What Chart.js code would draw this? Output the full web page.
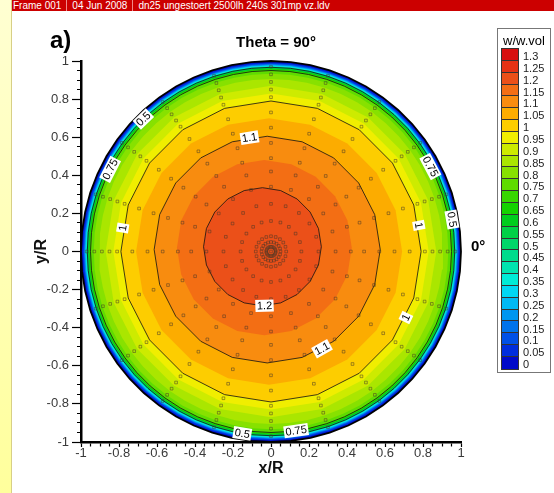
<!DOCTYPE html>
<html>
<head>
<meta charset="utf-8">
<title>Theta = 90°</title>
<script src="https://cdn.jsdelivr.net/npm/chart.js@4.4.1/dist/chart.umd.min.js"></script>
<style>
  html, body { margin: 0; padding: 0; background: #fff; }
  body { position: relative; width: 554px; height: 493px; overflow: hidden; font-family: "Liberation Sans", Arial, sans-serif; }
  #chartBox { position: absolute; left: 0; top: 0; width: 554px; height: 493px; }
  .strip { position: absolute; left: 0; top: 0; width: 11px; height: 493px; background: linear-gradient(#ffffd2, #ffff9c); border-right: 1px solid #d8cf86; }
  .bar { position: absolute; left: 12px; right: 0; top: 0; height: 11px; background: #cc0000; color: #fff; font-size: 10px; line-height: 11px; white-space: nowrap; }
  .bar span { display: inline-block; padding: 0 5px 0 1px; }
  .bar span + span { border-left: 1px solid #f08a8a; padding-left: 5px; }
  .panel { position: absolute; left: 50px; top: 28px; font-size: 24px; font-weight: bold; line-height: 1; }
  .title { position: absolute; left: 176px; width: 200px; top: 34px; text-align: center; font-size: 15px; font-weight: bold; line-height: 1; }
  .angle { position: absolute; left: 471px; top: 238px; font-size: 15px; font-weight: bold; line-height: 1; }
  .legend { position: absolute; left: 497px; top: 28px; width: 54px; height: 345px; border: 1px solid #777; box-sizing: border-box; background: #fff; }
  .legend .head { position: absolute; left: 0; right: 0; top: 5px; text-align: center; font-size: 13px; line-height: 13px; }
  .legend .swatches { position: absolute; left: 3px; top: 19px; width: 16px; border: 1px solid #333; }
  .legend .swatches div { height: 11.85px; box-sizing: border-box; border-bottom: 1px solid #333; }
  .legend .swatches div:last-child { border-bottom: none; }
  .legend .lab { position: absolute; left: 25px; font-family: "Liberation Sans Narrow", "Liberation Sans", Arial, sans-serif; font-size: 11px; line-height: 12px; color: #222; }
</style>
</head>
<body>
<div class="strip"></div>
<div class="bar"><span>Frame 001</span><span>04 Jun 2008</span><span>dn25 ungestoert 2500lh 240s 301mp vz.ldv</span></div>
<div id="chartBox"><canvas id="contour"></canvas></div>
<div class="panel">a)</div>
<div class="title">Theta = 90°</div>
<div class="angle">0°</div>
<div class="legend" id="legend"><div class="head">w/w.vol</div><div class="swatches" id="swatches"></div></div>
<script>
    "use strict";

    // contour levels (lower edge of every colour band) and the radius where each band starts
    const levels = [0, 0.05, 0.1, 0.15, 0.2, 0.25, 0.3, 0.35, 0.4, 0.45, 0.5, 0.55, 0.6,
        0.65, 0.7, 0.75, 0.8, 0.85, 0.9, 0.95, 1, 1.05, 1.1, 1.15, 1.2];
    const levelRadius = [1.0, 0.992, 0.987, 0.984, 0.981, 0.978, 0.976, 0.974, 0.972, 0.97, 0.967, 0.964, 0.961,
        0.958, 0.955, 0.95, 0.933, 0.905, 0.87, 0.83, 0.79, 0.70, 0.595, 0.46, 0.31];
    // centre of each contour (the core sits a little left of and above the pipe axis)
    const levelShiftX = [0, 0, 0, 0, 0, 0, 0, 0, 0, 0, 0, 0, 0,
        0, 0, 0, 0, 0, 0, 0, 0, -0.01, -0.02, -0.035, -0.045];
    const levelShiftY = [0, 0, 0, 0, 0, 0, 0, 0, 0, 0, 0, 0, 0,
        0, 0, 0, 0, 0, 0, 0, 0, 0, 0.01, 0.02, 0.025];

    // measuring grid: 20 rays, rings of points
    const rayAngles = [0, 18, 36, 54, 72, 90, 108, 126, 144, 162, 180, 198, 216, 234, 252, 270, 288, 306, 324, 342];
    const ringRadius = [0.025, 0.05, 0.08, 0.16, 0.25, 0.34, 0.42, 0.49, 0.57, 0.65, 0.73, 0.81, 0.85, 0.89, 0.93, 0.97];

    // contour lines that are drawn and labelled
    const lineLevels = [0.5, 0.75, 1, 1.1, 1.2];
    const labelLevels = [0.5, 0.75, 1.1, 1, 0.75, 1, 0.5, 1.2, 1, 1.1, 0.5, 0.75];
    const labelAngles = [134, 153, 99, 171, 28, 10, 10, 272, -26, -61, 261, 278];

    // colour bar
    const legendLevels = [1.3, 1.25, 1.2, 1.15, 1.1, 1.05, 1, 0.95, 0.9, 0.85, 0.8, 0.75, 0.7, 0.65,
        0.6, 0.55, 0.5, 0.45, 0.4, 0.35, 0.3, 0.25, 0.2, 0.15, 0.1, 0.05, 0];

    // palette, index = level / 0.05
    const palette = [
        'rgb(0,10,200)', 'rgb(0,45,220)', 'rgb(0,80,230)', 'rgb(0,115,235)', 'rgb(0,150,240)',
        'rgb(0,185,245)', 'rgb(0,215,245)', 'rgb(0,235,215)', 'rgb(0,228,175)', 'rgb(0,220,140)',
        'rgb(0,215,105)', 'rgb(0,210,70)', 'rgb(0,205,30)', 'rgb(20,210,0)', 'rgb(55,215,0)',
        'rgb(95,220,0)', 'rgb(135,225,0)', 'rgb(170,230,0)', 'rgb(205,235,0)', 'rgb(240,238,0)',
        'rgb(253,205,0)', 'rgb(252,172,0)', 'rgb(248,140,15)', 'rgb(243,110,20)', 'rgb(235,80,25)',
        'rgb(228,50,20)', 'rgb(215,15,15)'
    ];

    const narrow = '"Liberation Sans Narrow", "Liberation Sans", Arial, sans-serif';
    const deg = Math.PI / 180;

    // colour bar in html
    var sw = document.getElementById('swatches');
    var lg = document.getElementById('legend');
    legendLevels.forEach(function (lv, k) {
        var d = document.createElement('div');
        d.style.background = palette[Math.round(lv * 20)];
        sw.appendChild(d);
        var t = document.createElement('div');
        t.className = 'lab';
        t.style.top = (20 + k * 11.85 + 1) + 'px';
        t.textContent = String(lv);
        lg.appendChild(t);
    });

    // closed polygon of one contour; the wall region is drawn with a finer step
    function contour(i) {
        var step = levelRadius[i] > 0.88 ? 6 : 18;
        var pts = [];
        for (var a = 0; a <= 360; a += step) {
            pts.push({
                x: levelShiftX[i] + levelRadius[i] * Math.cos(a * deg),
                y: levelShiftY[i] + levelRadius[i] * Math.sin(a * deg)
            });
        }
        return pts;
    }

    var gridPoints = [{x: 0, y: 0}];
    ringRadius.forEach(function (r) {
        rayAngles.forEach(function (a) {
            gridPoints.push({x: r * Math.cos(a * deg), y: r * Math.sin(a * deg)});
        });
    });

    var datasets = [];
    datasets.push({
        data: gridPoints, showLine: false, pointStyle: 'rect', pointRadius: 1.9, borderWidth: 0.7,
        borderColor: 'rgba(70,55,40,0.7)', backgroundColor: 'rgba(0,0,0,0)', order: 0, clip: false
    });
    datasets.push({
        data: contour(0), showLine: true, fill: false, borderColor: '#000', borderWidth: 1.8,
        pointRadius: 0, order: 1, clip: false
    });
    lineLevels.forEach(function (lv) {
        datasets.push({
            data: contour(levels.indexOf(lv)), showLine: true, fill: false, borderColor: '#111',
            borderWidth: 0.8, pointRadius: 0, order: 2, clip: false
        });
    });
    levels.forEach(function (lv, i) {
        datasets.push({
            data: contour(i), showLine: true, fill: 'shape', backgroundColor: palette[i],
            borderColor: 'rgba(0,0,0,0)', borderWidth: 0, pointRadius: 0, order: 100 - i, clip: false
        });
    });

    // white boxed labels sitting on the contour lines
    const contourLabels = {
        id: 'contourLabels',
        afterDatasetsDraw: function (chart) {
            var ctx = chart.ctx, xs = chart.scales.x, ys = chart.scales.y;
            ctx.save();
            ctx.font = '11px ' + narrow;
            ctx.textAlign = 'center';
            ctx.textBaseline = 'middle';
            labelLevels.forEach(function (lv, k) {
                var i = levels.indexOf(lv);
                var a = labelAngles[k] * deg;
                var px = xs.getPixelForValue(levelShiftX[i] + levelRadius[i] * Math.cos(a));
                var py = ys.getPixelForValue(levelShiftY[i] + levelRadius[i] * Math.sin(a));
                var rot = ((90 - labelAngles[k]) % 180 + 180) % 180;
                if (rot > 90) rot -= 180;
                var text = String(lv);
                var w = ctx.measureText(text).width + 3;
                ctx.save();
                ctx.translate(px, py);
                ctx.rotate(rot * deg);
                ctx.fillStyle = '#fff';
                ctx.fillRect(-w / 2, -6, w, 12);
                ctx.fillStyle = '#000';
                ctx.fillText(text, 0, 0.5);
                ctx.restore();
            });
            ctx.restore();
        }
    };

    function isMajor(v) {
        return Math.round(v * 20) % 4 === 0;
    }
    function tickLabel(v) {
        var k = Math.round(v * 20);
        return k % 4 === 0 ? String(k / 20) : '';
    }

    new Chart(document.getElementById('contour'), {
        type: 'scatter',
        data: {datasets: datasets},
        plugins: [contourLabels],
        options: {
            responsive: true,
            maintainAspectRatio: false,
            animation: false,
            events: [],
            layout: {padding: {left: 30, right: 93, top: 61, bottom: 11}},
            plugins: {legend: {display: false}, tooltip: {enabled: false}},
            scales: {
                x: {
                    type: 'linear', min: -1, max: 1,
                    afterFit: function (s) { s.height = 40; },
                    border: {display: true, color: '#000', width: 2.5},
                    grid: {
                        drawOnChartArea: false, tickLength: 5, tickColor: '#000', tickWidth: 1.2,
                        tickBorderDash: function (c) { return c.tick && !isMajor(c.tick.value) ? [3, 20] : []; }
                    },
                    ticks: {
                        stepSize: 0.05, autoSkip: false, maxRotation: 0, padding: -1, color: '#3a3a3a',
                        font: {size: 13, family: narrow}, callback: tickLabel
                    },
                    title: {display: true, text: 'x/R', color: '#111', font: {size: 16, weight: 'bold', family: '"Liberation Sans", Arial'}, padding: {top: 0, bottom: 4}}
                },
                y: {
                    type: 'linear', min: -1, max: 1,
                    afterFit: function (s) { s.width = 51; },
                    border: {display: true, color: '#000', width: 2.5},
                    grid: {
                        drawOnChartArea: false, tickLength: 9, tickColor: '#000', tickWidth: 1.2,
                        tickBorderDash: function (c) { return c.tick && !isMajor(c.tick.value) ? [0, 5, 4, 20] : []; }
                    },
                    ticks: {
                        stepSize: 0.05, autoSkip: false, padding: 3, color: '#3a3a3a',
                        font: {size: 13, family: narrow}, callback: tickLabel
                    },
                    title: {display: true, text: 'y/R', color: '#111', font: {size: 16, weight: 'bold', family: '"Liberation Sans", Arial'}, padding: {top: 2, bottom: 0}}
                }
            }
        }
    });
</script>
</body>
</html>
